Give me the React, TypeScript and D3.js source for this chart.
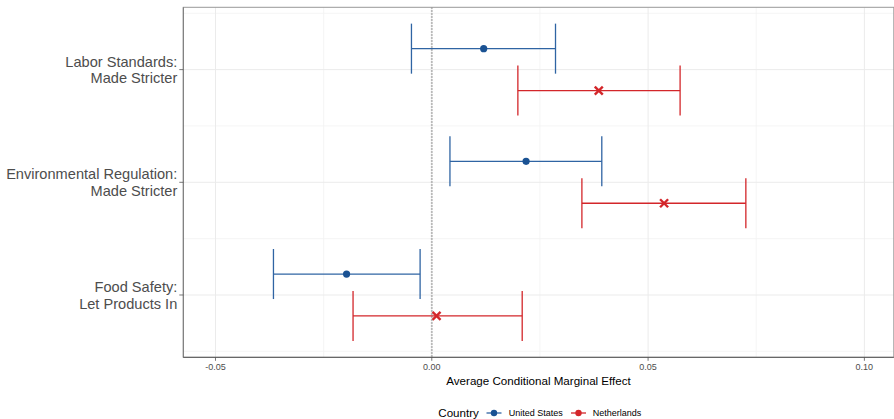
import React from "react";
import * as d3 from "d3";

const categories = ["Labor Standards:|Made Stricter", "Environmental Regulation:|Made Stricter", "Food Safety:|Let Products In"];
const usEst = [0.012, 0.0218, -0.0197];
const usLo = [-0.0047, 0.0042, -0.0366];
const usHi = [0.0286, 0.0393, -0.0027];
const nlEst = [0.0386, 0.0537, 0.0011];
const nlLo = [0.0199, 0.0347, -0.0182];
const nlHi = [0.0574, 0.0726, 0.0209];
const xTicks = [-0.05, 0, 0.05, 0.1];
const xTickLabels = ["-0.05", "0.00", "0.05", "0.10"];
const xMinor = [-0.025, 0.025, 0.075];
const seriesNames = ["United States", "Netherlands"];

const W = 894, H = 419;
const left = 183.3, right = 893.8, top = 7.3, bottom = 357.3;
const BLUE = "#1a5293";
const BLUE_BAR = "#2f64a3";
const RED = "#d3262a";
const FONT = "Liberation Sans, Arial, sans-serif";

export default function App() {
  const x = d3.scaleLinear().domain([-0.05744, 0.1068]).range([left, right]);
  const y = d3.scalePoint<string>().domain(categories).range([top, bottom]).padding(0.553);
  const step = y.step();
  const dodge = step * 0.186;
  const cap = step * 0.222;
  const yMinor = [0, 1, 2, 3].map((i) => (y(categories[0]) as number) - step / 2 + i * step);

  const series = [
    { name: seriesNames[0], est: usEst, lo: usLo, hi: usHi, off: -dodge, color: BLUE_BAR, pcolor: BLUE, shape: "circle" },
    { name: seriesNames[1], est: nlEst, lo: nlLo, hi: nlHi, off: dodge, color: RED, pcolor: RED, shape: "cross" },
  ];

  const cross = (cx: number, cy: number, c: string, s = 4) => (
    <g stroke={c} strokeWidth={2.4} strokeLinecap="butt">
      <line x1={cx - s} y1={cy - s} x2={cx + s} y2={cy + s} />
      <line x1={cx - s} y1={cy + s} x2={cx + s} y2={cy - s} />
    </g>
  );

  return (
    <svg width={W} height={H} style={{ position: "absolute", left: 0, top: 0, background: "#fff" }} fontFamily={FONT}>
      <rect x={0} y={0} width={W} height={H} fill="#fff" />
      {xMinor.map((v) => (
        <line key={"xm" + v} x1={x(v)} x2={x(v)} y1={top} y2={bottom} stroke="#f2f2f2" strokeWidth={0.8} />
      ))}
      {yMinor.map((v, i) => (
        <line key={"ym" + i} x1={left} x2={right} y1={v} y2={v} stroke="#f2f2f2" strokeWidth={0.8} />
      ))}
      {xTicks.map((v) => (
        <line key={"xg" + v} x1={x(v)} x2={x(v)} y1={top} y2={bottom} stroke="#ebebeb" strokeWidth={1} />
      ))}
      {categories.map((c) => (
        <line key={"yg" + c} x1={left} x2={right} y1={y(c)} y2={y(c)} stroke="#ebebeb" strokeWidth={1} />
      ))}
      <line x1={x(0)} x2={x(0)} y1={top} y2={bottom} stroke="#a6a6a6" strokeWidth={1.8} strokeDasharray="1.5,1.5" />
      {series.map((s) =>
        categories.map((c, i) => {
          const cy = (y(c) as number) + s.off;
          return (
            <g key={s.name + c}>
              <line x1={x(s.lo[i])} x2={x(s.hi[i])} y1={cy} y2={cy} stroke={s.color} strokeWidth={1.3} />
              <line x1={x(s.lo[i])} x2={x(s.lo[i])} y1={cy - cap} y2={cy + cap} stroke={s.color} strokeWidth={1.3} />
              <line x1={x(s.hi[i])} x2={x(s.hi[i])} y1={cy - cap} y2={cy + cap} stroke={s.color} strokeWidth={1.3} />
              {s.shape === "circle" ? (
                <circle cx={x(s.est[i])} cy={cy} r={3.6} fill={s.pcolor} />
              ) : (
                cross(x(s.est[i]), cy, s.pcolor)
              )}
            </g>
          );
        })
      )}
      <rect x={left} y={top} width={right - left} height={bottom - top} fill="none" stroke="#999" strokeWidth={1} />
      <line x1={left} x2={left} y1={top} y2={bottom} stroke="#777" strokeWidth={1} />
      <line x1={left} x2={right} y1={bottom} y2={bottom} stroke="#555" strokeWidth={1} />
      {xTicks.map((v, i) => (
        <g key={"xt" + v}>
          <line x1={x(v)} x2={x(v)} y1={bottom} y2={bottom + 3.5} stroke="#555" strokeWidth={0.8} />
          <text x={x(v)} y={bottom + 12.5} textAnchor="middle" fontSize={9} fill="#4d4d4d">
            {xTickLabels[i]}
          </text>
        </g>
      ))}
      <text x={(left + right) / 2} y={385} textAnchor="middle" fontSize={11.6} fill="#000">
        Average Conditional Marginal Effect
      </text>
      {categories.map((c) => {
        const cy = y(c) as number;
        const [l1, l2] = c.split("|");
        return (
          <g key={"yt" + c}>
            <line x1={left - 4} x2={left} y1={cy} y2={cy} stroke="#555" strokeWidth={0.8} />
            <text x={left - 6} y={cy - 7.9 + 5} textAnchor="end" fontSize={14.6} fill="#4d4d4d">
              {l1}
            </text>
            <text x={left - 6} y={cy + 8.6 + 5} textAnchor="end" fontSize={14.6} fill="#4d4d4d">
              {l2}
            </text>
          </g>
        );
      })}
      <g>
        <text x={438.3} y={417.3} fontSize={11.6} fill="#000">Country</text>
        <line x1={486.5} x2={501.5} y1={413} y2={413} stroke={BLUE_BAR} strokeWidth={1.3} />
        <circle cx={494} cy={413} r={3.2} fill={BLUE} />
        <text x={508.7} y={416.3} fontSize={9} fill="#000">{seriesNames[0]}</text>
        <line x1={571} x2={586} y1={413} y2={413} stroke={RED} strokeWidth={1.3} />
        <circle cx={578.5} cy={413} r={3.2} fill={RED} />
        <text x={592.7} y={416.3} fontSize={9} fill="#000">{seriesNames[1]}</text>
      </g>
    </svg>
  );
}
